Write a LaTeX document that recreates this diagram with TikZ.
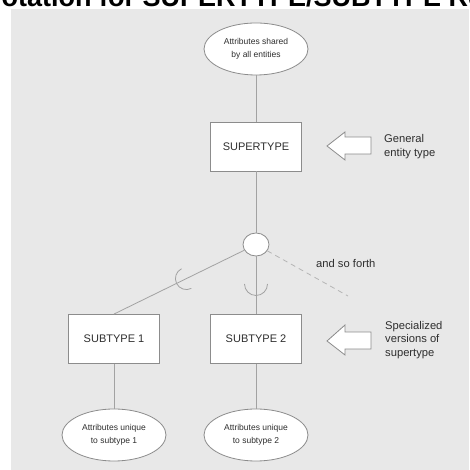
\documentclass[tikz,border=0pt]{standalone}
\usepackage{fontspec}
\setmainfont{Liberation Sans}
\usetikzlibrary{shapes.geometric,calc}
\definecolor{panel}{HTML}{E8E8E8}
\definecolor{wire}{HTML}{A2A2A2}
\definecolor{edge}{HTML}{8C8C8C}
\definecolor{ink}{HTML}{2E2E2E}
\tikzset{
  attr/.style={ellipse, draw=edge, fill=white, line width=0.8pt, inner sep=0pt,
    minimum width=104pt, minimum height=52pt, align=center, text=ink,
    font=\fontsize{8.5}{12.5}\selectfont},
  entity/.style={rectangle, draw=edge, fill=white, line width=0.9pt,
    minimum width=91pt, minimum height=49pt, text=ink,
    font=\fontsize{11}{12}\selectfont},
  junction/.style={ellipse, draw=edge, fill=white, line width=0.8pt,
    minimum width=26pt, minimum height=23pt, inner sep=0pt},
  note/.style={anchor=west, align=left, text=ink, inner sep=0pt,
    font=\fontsize{11.2}{13.5}\selectfont},
  link/.style={draw=wire, line width=0.8pt},
  hollow/.style={draw=edge, fill=white, line width=0.8pt, line join=miter},
}
\begin{document}
\begin{tikzpicture}[x=1pt,y=1pt]
\useasboundingbox (0,0) rectangle (469,470);
% background panel and the heading, trimmed at the top edge
\fill[panel] (11,0) rectangle (469,461);
\begin{scope}
  \clip (0,0) rectangle (469,470);
  \node[anchor=base west, inner sep=0pt, text=black,
    font=\fontsize{27}{30}\selectfont\bfseries] (title) at (-18,463)
    {Notation for SUPERTYPE/SUBTYPE Relationships};
\end{scope}

% nodes
\node[attr] (shared) at (256,421) {Attributes shared\\by all entities};
\node[entity] (super) at (256,323.5) {SUPERTYPE};
\node[junction] (c) at (256,225.5) {};
\node[entity] (sub1) at (114,131) {SUBTYPE 1};
\node[entity] (sub2) at (256,131) {SUBTYPE 2};
\node[attr] (uniq1) at (114,35) {Attributes unique\\to subtype 1};
\node[attr] (uniq2) at (256,35) {Attributes unique\\to subtype 2};
\node[note] (gen) at (384,323.5) {General\\entity type};
\node[note] (spec) at (385,130) {Specialized\\versions of\\supertype};
\node[note] (more) at (316,206) {and so forth};
\coordinate (tail) at (348,174);

% connectors
\draw[link] (shared) -- (super);
\draw[link] (super) -- (c);
\draw[link] (c) -- (sub1.north);
\draw[link] (c) -- (sub2);
\draw[link, dashed, dash pattern=on 5pt off 4pt, draw=wire!80] (c) -- (tail);
\draw[link] (sub1) -- (uniq1);
\draw[link] (sub2) -- (uniq2);

% subset marks on the subtype links
\coordinate (k1) at ($(c)!0.49!(sub1.north)$);
\coordinate (k2) at (256,186);
\draw[link] ([shift={(116.4:11)}]k1) arc[start angle=116.4, end angle=296.4, radius=11];
\draw[link] ([shift={(180:11.5)}]k2) arc[start angle=180, end angle=360, radius=11.5];

% hollow pointers toward the boxes
\draw[hollow] (327,324) -- (345,338) -- (345,333) -- (371,333) -- (371,316)
  -- (345,316) -- (345,310) -- cycle;
\draw[hollow] (327,129) -- (345,145) -- (345,138) -- (371,138) -- (371,121)
  -- (345,121) -- (345,115) -- cycle;
\end{tikzpicture}
\end{document}
